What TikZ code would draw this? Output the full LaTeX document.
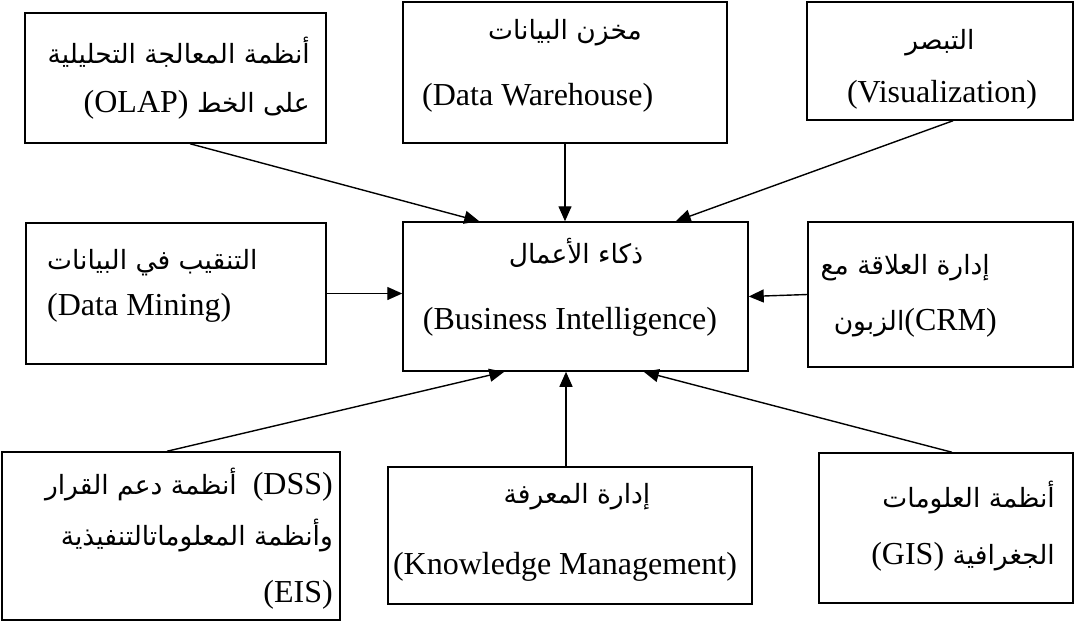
\documentclass[tikz,border=0pt]{standalone}
\usepackage{fontspec}
\setmainfont{Liberation Serif}
\newfontfamily\arabicfont[Script=Arabic]{DejaVu Sans}
\TeXXeTstate=1
\usepackage{tikz}
\usetikzlibrary{arrows.meta}

\newcommand\ar[1]{{\arabicfont\fontsize{26.5}{30}\selectfont\beginR #1\endR}}
\newcommand\lt[1]{\beginL{\rmfamily\fontsize{32}{38}\selectfont #1}\endL}

\tikzset{
	box/.style={draw,line width=1.5pt,inner sep=0pt},
	txt/.style={inner sep=0pt,font=\fontsize{32}{38}\selectfont},
	arr/.style={line width=1.4pt,-{Triangle[length=15pt,width=13pt]}}
}

\begin{document}
\begin{tikzpicture}[x=1pt,y=-1pt]
		\useasboundingbox (0,0) rectangle (1075,624);
		\node[box,minimum width=301pt,minimum height=130pt] (olap) at (175.5,78) {};
		\node[box,minimum width=324pt,minimum height=141pt] (dw) at (565,72.5) {};
		\node[box,minimum width=266pt,minimum height=118pt] (vis) at (940,61) {};
		\node[box,minimum width=300pt,minimum height=141pt] (dm) at (176,293.5) {};
		\node[box,minimum width=345pt,minimum height=149pt] (bi) at (575.5,296.5) {};
		\node[box,minimum width=265pt,minimum height=145pt] (crm) at (940.5,294.5) {};
		\node[box,minimum width=338pt,minimum height=168pt] (dss) at (171,536) {};
		\node[box,minimum width=364pt,minimum height=137pt] (km) at (570,535.5) {};
		\node[box,minimum width=254pt,minimum height=150pt] (gis) at (946,528) {};

		\node[txt,anchor=east] (olap1) at (310,52) {\ar{أنظمة المعالجة التحليلية}};
		\node[txt,anchor=east] (olap2) at (310,105) {\ar{على الخط \lt{(OLAP)}}};
		\node[txt] (dw1) at (565,33) {\ar{مخزن البيانات}};
		\node[txt,anchor=west] (dw2) at (422,98) {(Data Warehouse)};
		\node[txt] (vis1) at (940,43) {\ar{التبصر}};
		\node[txt] (vis2) at (942,95) {(Visualization)};
		\node[txt,anchor=west] (dm1) at (47,263) {\ar{التنقيب في البيانات}};
		\node[txt,anchor=west] (dm2) at (47,308) {(Data Mining)};
		\node[txt] (bi1) at (576,253) {\ar{ذكاء الأعمال}};
		\node[txt] (bi2) at (570,322) {(Business Intelligence)};
		\node[txt,anchor=east] (crm1) at (990,268) {\ar{إدارة العلاقة مع}};
		\node[txt,anchor=east] (crm2) at (997,323) {\ar{الزبون}(CRM)};
		\node[txt,anchor=east] (dss1) at (333,485) {\ar{أنظمة دعم القرار}\ \ (DSS)};
		\node[txt,anchor=east] (dss2) at (333,535) {\ar{وأنظمة المعلوماتالتنفيذية}};
		\node[txt,anchor=east] (dss3) at (333,595) {(EIS)};
		\node[txt] (km1) at (577,497) {\ar{إدارة المعرفة}};
		\node[txt] (km2) at (565,567) {(Knowledge Management)};
		\node[txt,anchor=east] (gis1) at (1055,497) {\ar{أنظمة العلومات}};
		\node[txt,anchor=east] (gis2) at (1055,557) {\ar{الجغرافية \lt{(GIS)}}};

		\draw[arr] ([xshift=14.5pt]olap.south) -- ([xshift=77pt]bi.north west);
		\draw[arr] (dw.south) -- (dw.south |- bi.north);
		\draw[arr] ([xshift=13pt]vis.south) -- ([xshift=-73pt]bi.north east);
		\draw[arr] (dm.east) -- (dm.east -| bi.west);
		\draw[arr] (crm.west) -- (bi.east);
		\draw[arr] ([xshift=-4pt]dss.north) -- ([xshift=102pt]bi.south west);
		\draw[arr] ([xshift=-4pt]km.north) -- ([xshift=-4pt]km.north |- bi.south);
		\draw[arr] ([xshift=6pt]gis.north) -- ([xshift=-105pt]bi.south east);
\end{tikzpicture}
\end{document}
